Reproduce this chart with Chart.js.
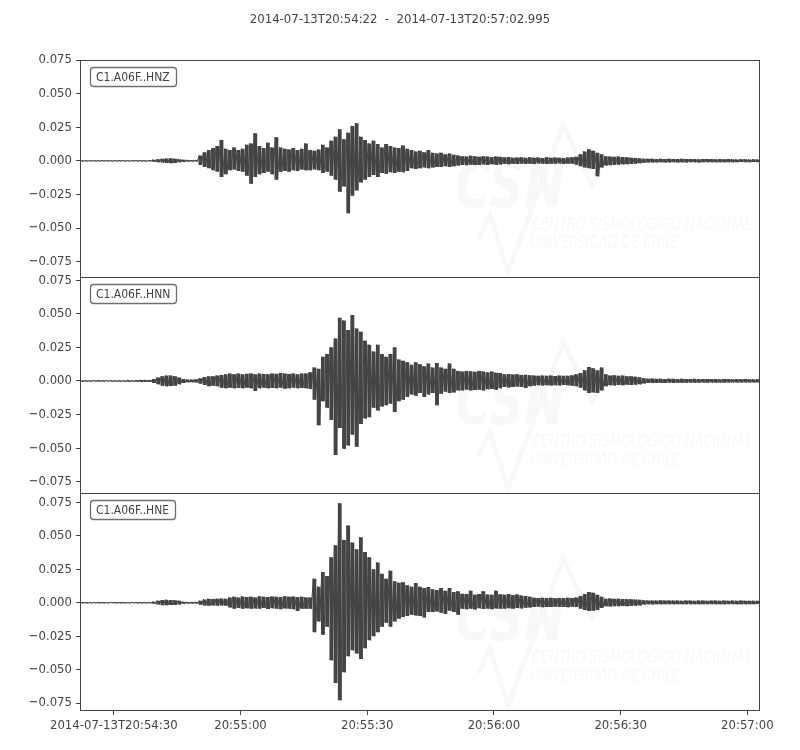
<!DOCTYPE html>
<html>
<head>
<meta charset="utf-8">
<script src="https://cdn.jsdelivr.net/npm/chart.js@4.4.1/dist/chart.umd.min.js"></script>
<style>
  html, body { margin: 0; padding: 0; background: #fff; }
</style>
</head>
<body>
<canvas id="seismo" width="800" height="750"></canvas>
<script>
// time window of the record (seconds after 20:54:22)
const startLabel = '2014-07-13T20:54:22';
const endLabel = '2014-07-13T20:57:02.995';
const duration = 160.995;

const xTickSeconds = [8, 38, 68, 98, 128, 158];
const xTickLabels = ['2014-07-13T20:54:30', '20:55:00', '20:55:30', '20:56:00', '20:56:30', '20:57:00'];
const yTickValues = [-0.075, -0.05, -0.025, 0, 0.025, 0.05, 0.075];

const channels = ['C1.A06F..HNZ', 'C1.A06F..HNN', 'C1.A06F..HNE'];

// per-second peak and trough of each trace, in thousandths of the axis unit
const AMP = 0.001;

const hnzMax = [
  0.3, 0.2, 0.3, 0.3, 0.2, 0.3, 0.3, 0.2, 0.3, 0.3,
  0.3, 0.2, 0.3, 0.3, 0.4, 0.3, 0.4, 0.8, 1.2, 1.5,
  1.8, 2.0, 1.6, 1.2, 0.9, 0.6, 0.4, 0.5, 4.0, 6.5,
  8.0, 9.5, 11.0, 15.5, 9.0, 8.0, 10.0, 8.0, 9.0, 12.0,
  13.0, 20.5, 11.0, 9.5, 13.5, 10.0, 17.5, 10.0, 9.0, 8.5,
  9.5, 8.0, 9.0, 13.0, 8.0, 7.5, 8.5, 12.0, 10.0, 15.0,
  18.0, 23.5, 16.0, 21.0, 26.0, 28.0, 18.0, 15.5, 13.0, 15.0,
  12.5, 10.0, 12.5, 11.0, 10.0, 9.5, 11.5, 9.0, 8.0, 7.0,
  7.5, 6.5, 8.0, 6.0, 5.5, 6.0, 5.0, 5.5, 4.5, 4.0,
  3.5, 3.2, 3.8, 3.4, 3.0, 3.5, 3.2, 2.8, 3.3, 3.0,
  2.6, 2.8, 2.4, 2.5, 2.7, 2.3, 2.6, 2.4, 2.5, 2.2,
  2.6, 2.3, 2.5, 2.4, 2.2, 2.5, 2.6, 3.0, 5.0, 7.0,
  8.7, 7.5, 6.0, 5.0, 3.5, 3.2, 3.0, 3.2, 2.8, 2.6,
  2.4, 2.2, 2.0, 1.6, 1.5, 1.6, 1.4, 1.5, 1.4, 1.5,
  1.4, 1.3, 1.5, 1.4, 1.3, 1.4, 1.2, 1.3, 1.4, 1.3,
  1.2, 1.3, 1.2, 1.3, 1.2, 1.1, 1.2, 1.2, 1.1, 1.2, 1.1
];
const hnzMin = [
  -0.3, -0.3, -0.2, -0.3, -0.3, -0.2, -0.3, -0.3, -0.3, -0.2,
  -0.3, -0.3, -0.2, -0.3, -0.3, -0.4, -0.3, -0.7, -1.0, -1.3,
  -1.6, -1.8, -1.5, -1.0, -0.8, -0.5, -0.4, -0.5, -3.0, -4.5,
  -5.5, -7.0, -8.0, -12.0, -10.0, -7.0, -6.5, -7.5, -8.0, -11.0,
  -17.0, -12.0, -10.0, -9.0, -8.0, -10.0, -14.0, -8.0, -7.5, -8.0,
  -7.0, -7.5, -6.5, -7.0, -7.0, -6.5, -7.0, -9.0, -8.0, -11.0,
  -14.0, -23.0, -19.0, -39.0, -26.0, -22.0, -16.0, -14.0, -12.0, -10.5,
  -12.0, -9.0, -9.5, -8.5, -9.0, -8.0, -8.5, -7.5, -5.5, -6.0,
  -5.5, -5.0, -5.5, -5.0, -4.5, -4.5, -4.0, -4.5, -4.0, -3.5,
  -3.0, -3.2, -2.8, -3.1, -3.0, -2.7, -3.0, -2.6, -2.9, -2.7,
  -2.3, -2.5, -2.2, -2.4, -2.1, -2.3, -2.2, -2.4, -2.0, -2.2,
  -2.3, -2.1, -2.2, -2.0, -2.3, -2.1, -2.2, -2.8, -4.0, -5.0,
  -5.5, -6.0, -11.5, -5.0, -3.5, -3.2, -3.0, -2.9, -2.6, -2.5,
  -2.3, -2.1, -1.8, -1.4, -1.2, -1.3, -1.2, -1.1, -1.2, -1.2,
  -1.1, -1.2, -1.1, -1.2, -1.0, -1.1, -1.2, -1.0, -1.1, -1.0,
  -1.1, -1.0, -1.1, -1.0, -1.1, -1.0, -0.9, -1.0, -1.0, -0.9, -1.0
];

const hnnMax = [
  0.4, 0.4, 0.3, 0.4, 0.4, 0.3, 0.4, 0.4, 0.3, 0.4,
  0.4, 0.5, 0.4, 0.6, 0.7, 0.8, 0.8, 1.5, 2.5, 3.5,
  4.0, 4.0, 3.5, 2.5, 1.5, 1.0, 1.0, 1.2, 2.0, 3.0,
  3.5, 3.5, 4.0, 4.5, 5.0, 5.5, 5.0, 5.5, 5.0, 5.3,
  5.5, 5.0, 5.5, 5.2, 5.0, 5.5, 5.3, 6.0, 5.5, 5.2,
  5.5, 5.0, 5.5, 5.5, 6.5, 10.0, 9.0, 18.0, 20.0, 25.0,
  31.6, 47.0, 45.0, 38.0, 49.0, 39.0, 36.6, 30.0, 27.0, 22.0,
  27.0, 20.0, 18.0, 20.0, 25.0, 16.0, 15.0, 14.0, 12.0, 14.0,
  12.5, 11.0, 13.0, 10.0, 13.4, 10.0, 9.0, 13.0, 9.0, 7.5,
  7.0, 7.5, 7.2, 6.8, 7.5, 7.0, 6.5, 7.0, 6.2, 6.0,
  5.0, 5.2, 4.8, 5.0, 4.5, 4.6, 4.2, 4.0, 3.8, 4.0,
  3.8, 4.0, 3.7, 4.0, 3.8, 3.9, 4.2, 5.0, 6.0, 8.0,
  10.4, 9.5, 8.0, 10.0, 5.0, 4.0, 4.2, 3.8, 4.0, 3.6,
  3.5, 3.2, 2.8, 2.0, 1.7, 1.8, 1.6, 1.7, 1.5, 1.7,
  1.6, 1.5, 1.6, 1.4, 1.5, 1.6, 1.4, 1.5, 1.4, 1.5,
  1.4, 1.3, 1.4, 1.5, 1.3, 1.4, 1.3, 1.4, 1.3, 1.3, 1.2
];
const hnnMin = [
  -0.4, -0.4, -0.4, -0.3, -0.4, -0.4, -0.3, -0.4, -0.4, -0.4,
  -0.4, -0.5, -0.4, -0.6, -0.7, -0.8, -0.8, -1.5, -2.5, -3.5,
  -4.0, -3.8, -3.5, -2.5, -1.5, -1.0, -1.0, -1.2, -2.0, -3.0,
  -4.0, -3.5, -4.0, -5.0, -5.5, -5.0, -5.5, -5.2, -5.5, -5.0,
  -5.5, -7.5, -5.5, -5.0, -5.5, -5.2, -5.5, -5.0, -5.7, -5.5,
  -5.0, -5.5, -5.2, -5.5, -6.0, -14.0, -33.0, -15.0, -20.0, -29.0,
  -55.0, -35.0, -50.5, -48.0, -40.0, -49.0, -32.0, -28.0, -27.0, -20.0,
  -22.0, -19.0, -18.0, -17.0, -23.0, -15.0, -14.0, -12.0, -10.0, -11.0,
  -9.0, -12.0, -10.0, -9.0, -18.0, -9.5, -8.0, -9.0, -8.5, -7.0,
  -7.0, -6.5, -7.0, -6.8, -6.5, -7.0, -6.2, -6.0, -6.5, -5.5,
  -4.5, -4.8, -4.5, -4.2, -4.5, -5.2, -4.0, -3.5, -3.2, -3.4,
  -3.2, -3.4, -3.1, -3.3, -3.0, -3.2, -3.5, -4.0, -5.0, -7.0,
  -9.0, -8.5, -9.0, -7.0, -4.0, -3.2, -3.4, -3.0, -3.2, -2.9,
  -3.0, -2.8, -2.5, -1.8, -1.5, -1.6, -1.5, -1.4, -1.5, -1.4,
  -1.5, -1.4, -1.3, -1.4, -1.3, -1.4, -1.3, -1.2, -1.3, -1.2,
  -1.3, -1.2, -1.3, -1.2, -1.1, -1.2, -1.2, -1.1, -1.2, -1.1, -1.1
];

const hneMax = [
  0.3, 0.3, 0.2, 0.3, 0.3, 0.3, 0.2, 0.3, 0.3, 0.3,
  0.3, 0.2, 0.3, 0.3, 0.3, 0.3, 0.4, 0.8, 1.5, 2.0,
  2.2, 2.0, 1.8, 1.5, 0.8, 0.5, 0.5, 0.6, 1.5, 2.5,
  3.0, 2.8, 3.0, 3.2, 3.0, 4.0, 4.5, 4.0, 4.7, 4.2,
  4.5, 4.0, 4.8, 4.5, 4.2, 4.7, 4.5, 4.3, 4.8, 4.5,
  4.6, 4.2, 4.5, 4.0, 4.0, 18.0, 12.0, 23.0, 20.0, 34.0,
  43.0, 74.4, 47.0, 57.7, 45.0, 40.0, 49.0, 38.0, 34.0, 25.0,
  30.0, 21.6, 18.0, 24.0, 16.0, 15.0, 15.4, 13.0, 12.0, 14.7,
  12.0, 11.0, 11.7, 10.0, 9.5, 11.0, 9.0, 11.0, 8.0, 8.5,
  6.7, 6.5, 9.0, 6.0, 6.5, 8.5, 6.2, 6.0, 9.0, 6.3,
  6.0, 6.5, 5.8, 6.2, 5.5, 5.0, 4.5, 3.7, 3.5, 3.8,
  3.6, 3.7, 3.4, 3.6, 3.5, 3.8, 3.6, 3.9, 5.0, 6.5,
  8.0, 7.5, 6.0, 4.5, 3.0, 3.2, 2.9, 3.0, 2.8, 2.7,
  2.6, 2.4, 2.2, 1.8, 1.7, 1.6, 1.7, 1.8, 1.6, 1.7,
  1.6, 1.7, 1.5, 1.7, 1.6, 1.5, 1.7, 1.6, 1.5, 1.6,
  1.7, 1.5, 1.6, 1.5, 1.6, 1.5, 1.6, 1.5, 1.4, 1.5, 1.4
];
const hneMin = [
  -0.3, -0.3, -0.3, -0.2, -0.3, -0.3, -0.3, -0.2, -0.3, -0.3,
  -0.3, -0.3, -0.2, -0.3, -0.3, -0.3, -0.4, -0.7, -1.3, -1.8,
  -1.8, -1.7, -1.6, -1.3, -0.7, -0.5, -0.5, -0.5, -1.5, -2.0,
  -2.2, -2.0, -2.2, -2.1, -2.2, -3.5, -4.5, -4.0, -4.5, -4.2,
  -4.5, -4.3, -4.5, -4.0, -4.6, -4.2, -4.5, -4.8, -4.3, -4.5,
  -4.8, -6.2, -4.5, -4.5, -4.5, -22.0, -14.0, -24.0, -18.0, -43.0,
  -60.0, -73.0, -52.0, -40.0, -35.6, -38.0, -42.0, -34.0, -28.0, -25.0,
  -22.0, -18.0, -15.0, -18.0, -14.0, -12.0, -10.7, -10.0, -9.0, -9.5,
  -10.0, -11.0, -7.0, -7.0, -6.5, -7.5, -8.5, -6.0, -7.0, -9.0,
  -4.5, -4.8, -4.5, -5.0, -4.2, -4.6, -4.5, -4.8, -4.3, -4.5,
  -4.5, -4.2, -4.5, -4.0, -4.3, -3.8, -3.5, -3.2, -3.0, -3.3,
  -3.1, -3.2, -3.0, -3.2, -3.1, -3.3, -3.0, -3.2, -4.5, -5.5,
  -6.2, -6.0, -5.5, -4.0, -2.7, -2.8, -2.6, -2.7, -2.5, -2.6,
  -2.4, -2.3, -2.0, -1.4, -1.2, -1.3, -1.2, -1.2, -1.1, -1.2,
  -1.2, -1.1, -1.2, -1.1, -1.2, -1.1, -1.2, -1.1, -1.2, -1.1,
  -1.2, -1.1, -1.2, -1.1, -1.1, -1.2, -1.1, -1.2, -1.1, -1.1, -1.0
];

const FONT = "'DejaVu Sans Condensed', 'DejaVu Sans', sans-serif";
const INK = '#444444';

// zig-zag line through the peaks and troughs
function trace(maxs, mins) {
    const pts = [];
    for (let i = 0; i < maxs.length; i++) {
        pts.push({ x: i + 0.25, y: maxs[i] * AMP });
        pts.push({ x: i + 0.75, y: mins[i] * AMP });
    }
    return pts;
}

// one floating bar per second, from trough to peak
function envelope(maxs, mins) {
    return maxs.map((m, i) => ({ x: i + 0.5, y: [mins[i] * AMP, m * AMP] }));
}

function fmtY(v) {
    const s = Math.abs(v).toFixed(3);
    return v < 0 ? '\u2212' + s : s;
}

function yAxis(min, max) {
    return {
        type: 'linear',
        position: 'left',
        stack: 'traces',
        stackWeight: 1,
        min: min,
        max: max,
        afterBuildTicks: s => { s.ticks = yTickValues.map(v => ({ value: v })); },
        afterFit: s => { s.width = 80; },
        ticks: { autoSkip: false, padding: 4, color: INK, font: { family: FONT, size: 13 }, callback: v => fmtY(v) },
        grid: { drawOnChartArea: false, tickLength: 4, color: INK },
        border: { display: false }
    };
}

function drawWatermark(ctx, top) {
    ctx.save();
    ctx.fillStyle = '#f8f8f8';
    ctx.strokeStyle = '#f8f8f8';
    ctx.textAlign = 'left';
    ctx.textBaseline = 'alphabetic';
    ctx.font = 'italic bold 64px ' + FONT;
    ctx.fillText('CSN', 455, top + 147, 110);
    ctx.lineWidth = 5;
    ctx.beginPath();
    ctx.moveTo(478, top + 180);
    ctx.lineTo(490, top + 155);
    ctx.lineTo(508, top + 212);
    ctx.lineTo(563, top + 65);
    ctx.lineTo(592, top + 125);
    ctx.lineTo(600, top + 110);
    ctx.stroke();
    ctx.font = 'italic 18px ' + FONT;
    ctx.fillText('CENTRO SISMOLÓGICO NACIONAL', 532, top + 170, 220);
    ctx.fillText('UNIVERSIDAD DE CHILE', 530, top + 188, 150);
    ctx.restore();
}

const panelDecor = {
    id: 'panelDecor',
    beforeDatasetsDraw(chart) {
        const ctx = chart.ctx;
        ['yZ', 'yN', 'yE'].forEach(id => drawWatermark(ctx, chart.scales[id].top));
    },
    afterDraw(chart) {
        const ctx = chart.ctx;
        const area = chart.chartArea;
        ctx.save();
        ['yZ', 'yN', 'yE'].forEach((id, i) => {
            const s = chart.scales[id];
            const top = Math.round(s.top);
            const bottom = Math.round(s.bottom);
            ctx.strokeStyle = INK;
            ctx.lineWidth = 1;
            ctx.strokeRect(area.left + 0.5, top + 0.5, area.right - area.left - 1, bottom - top);

            // channel label box
            ctx.font = '12px ' + FONT;
            const w = ctx.measureText(channels[i]).width + 12;
            ctx.beginPath();
            ctx.roundRect(90.5, top + 7.5, Math.round(w), 19, 3);
            ctx.fillStyle = '#ffffff';
            ctx.fill();
            ctx.strokeStyle = '#707070';
            ctx.lineWidth = 1.3;
            ctx.stroke();
            ctx.fillStyle = INK;
            ctx.textAlign = 'left';
            ctx.textBaseline = 'middle';
            ctx.fillText(channels[i], 96, top + 17.5);
        });
        ctx.font = '13px ' + FONT;
        ctx.fillStyle = INK;
        ctx.textAlign = 'center';
        ctx.textBaseline = 'middle';
        ctx.fillText(startLabel + '  -  ' + endLabel, 400, 20);
        ctx.restore();
    }
};

function lineSet(data, axis) {
    return {
        type: 'line',
        data: data,
        yAxisID: axis,
        borderColor: INK,
        borderWidth: 1,
        pointRadius: 0,
        tension: 0,
        fill: false
    };
}

function barSet(data, axis) {
    return {
        type: 'bar',
        data: data,
        yAxisID: axis,
        backgroundColor: INK,
        borderWidth: 0,
        grouped: false,
        barPercentage: 0.9,
        categoryPercentage: 1
    };
}

new Chart(document.getElementById('seismo').getContext('2d'), {
    type: 'line',
    data: {
        datasets: [
            barSet(envelope(hnzMax, hnzMin), 'yZ'),
            lineSet(trace(hnzMax, hnzMin), 'yZ'),
            barSet(envelope(hnnMax, hnnMin), 'yN'),
            lineSet(trace(hnnMax, hnnMin), 'yN'),
            barSet(envelope(hneMax, hneMin), 'yE'),
            lineSet(trace(hneMax, hneMin), 'yE')
        ]
    },
    options: {
        responsive: false,
        devicePixelRatio: 1,
        animation: false,
        layout: { padding: { top: 60, right: 40, bottom: 0, left: 0 } },
        plugins: { legend: { display: false }, tooltip: { enabled: false }, title: { display: false } },
        scales: {
            x: {
                type: 'linear',
                min: 0,
                max: duration,
                offset: false,
                afterBuildTicks: s => { s.ticks = xTickSeconds.map(v => ({ value: v })); },
                afterFit: s => { s.height = 40; },
                ticks: {
                    autoSkip: false, maxRotation: 0, padding: 3, color: INK,
                    font: { family: FONT, size: 13 },
                    callback: (v, i) => xTickLabels[i]
                },
                grid: { drawOnChartArea: false, offset: false, tickLength: 5, color: INK },
                border: { display: false }
            },
            yE: yAxis(-0.0802, 0.0818),
            yN: yAxis(-0.0836, 0.0776),
            yZ: yAxis(-0.0861, 0.0750)
        }
    },
    plugins: [panelDecor]
});
</script>
</body>
</html>
